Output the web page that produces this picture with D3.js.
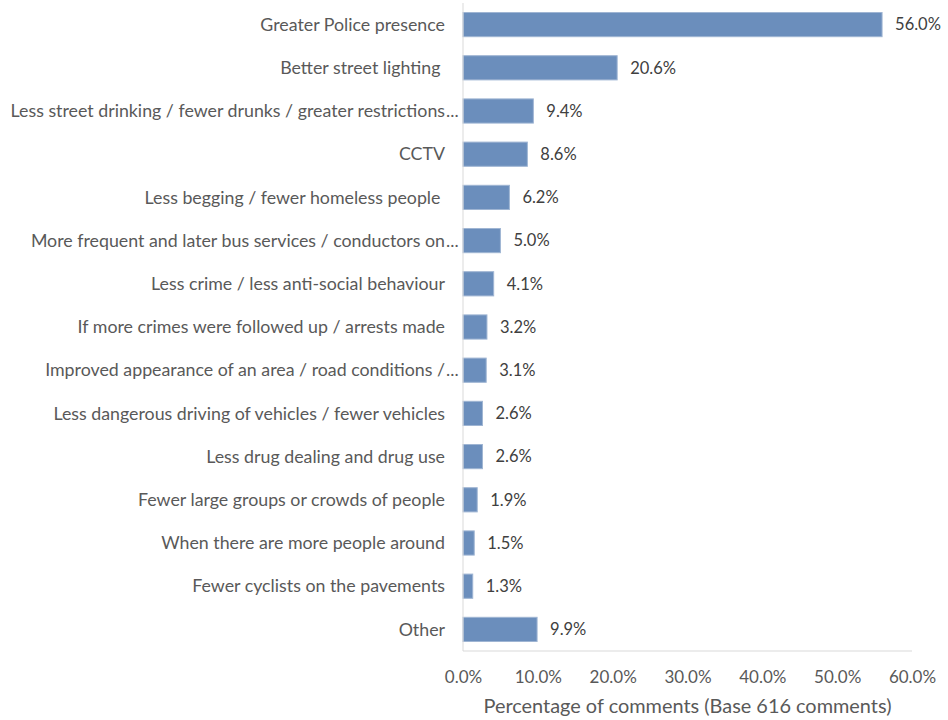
<!DOCTYPE html>
<html><head><meta charset="utf-8">
<script src="https://cdn.jsdelivr.net/npm/d3@7"></script>
<style>
body{margin:0;background:#fff;}
text{font-family:Lato,"Liberation Sans",sans-serif;}
</style></head>
<body><svg id="c" width="948" height="720"></svg>
<script>
const categories = [
  "Greater Police presence",
  "Better street lighting ",
  "Less street drinking / fewer drunks / greater restrictions…",
  "CCTV",
  "Less begging / fewer homeless people ",
  "More frequent and later bus services / conductors on…",
  "Less crime / less anti-social behaviour",
  "If more crimes were followed up / arrests made",
  "Improved appearance of an area / road conditions /…",
  "Less dangerous driving of vehicles / fewer vehicles",
  "Less drug dealing and drug use",
  "Fewer large groups or crowds of people",
  "When there are more people around",
  "Fewer cyclists on the pavements",
  "Other"
];
const values = [56.0, 20.6, 9.4, 8.6, 6.2, 5.0, 4.1, 3.2, 3.1, 2.6, 2.6, 1.9, 1.5, 1.3, 9.9];
const xTicks = [0, 10, 20, 30, 40, 50, 60];
const axisTitle = "Percentage of comments (Base 616 comments)";

(function () {
const svg = d3.select("#c");
const pL = 463, pR = 912, pT = 3, pB = 651;
const x = d3.scaleLinear().domain([0, 60]).range([pL, pR]);
const y = d3.scaleBand().domain(categories).range([pT, pB]).paddingInner(0.44).paddingOuter(0.22);

svg.append("g").selectAll("rect").data(values).join("rect")
  .attr("x", x(0))
  .attr("y", (d, i) => y(categories[i]))
  .attr("width", d => x(d) - x(0))
  .attr("height", y.bandwidth())
  .attr("fill", "#6b8ebc")
  .attr("stroke", "#9fb5d3")
  .attr("stroke-width", 1);

svg.append("g").selectAll("text").data(values).join("text")
  .attr("x", d => x(d) + 13)
  .attr("y", (d, i) => y(categories[i]) + y.bandwidth() / 2)
  .attr("dy", "0.35em")
  .attr("fill", "#404040")
  .attr("font-size", 16.5)
  .text(d => d.toFixed(1) + "%");

svg.append("line").attr("x1", pL).attr("x2", pL).attr("y1", pT).attr("y2", pB)
  .attr("stroke", "#d9d9d9").attr("stroke-width", 1);
svg.append("line").attr("x1", pL).attr("x2", pR).attr("y1", pB).attr("y2", pB)
  .attr("stroke", "#d9d9d9").attr("stroke-width", 1);

const cg = svg.append("g").selectAll("g").data(categories).join("g")
  .attr("transform", d => `translate(0,${y(d) + y.bandwidth() / 2})`);
cg.append("text")
  .attr("x", 445)
  .attr("dy", "0.35em")
  .attr("text-anchor", "end")
  .style("white-space", "pre")
  .attr("fill", "#595959")
  .attr("font-size", 17.8)
  .text(d => d.endsWith("…") ? d.slice(0, -1) : d);
cg.filter(d => d.endsWith("…")).append("text")
  .attr("x", 446)
  .attr("dy", "0.35em")
  .attr("fill", "#595959")
  .attr("font-size", 17.8)
  .text("...");

const xAxis = d3.axisBottom(x).tickValues(xTicks).tickSize(0).tickPadding(0)
  .tickFormat(d => d.toFixed(1) + "%");
const ga = svg.append("g").attr("transform", `translate(0,${pB})`).call(xAxis);
ga.select(".domain").remove();
ga.selectAll("text").attr("y", 26).attr("dy", "0.35em")
  .attr("fill", "#595959").attr("font-size", 17)
  .attr("font-family", "Lato,'Liberation Sans',sans-serif");

svg.append("text").attr("x", (pL + pR) / 2).attr("y", 706).attr("dy", "0.35em")
  .attr("text-anchor", "middle").attr("fill", "#595959").attr("font-size", 19.9)
  .text(axisTitle);
})();
</script></body></html>
